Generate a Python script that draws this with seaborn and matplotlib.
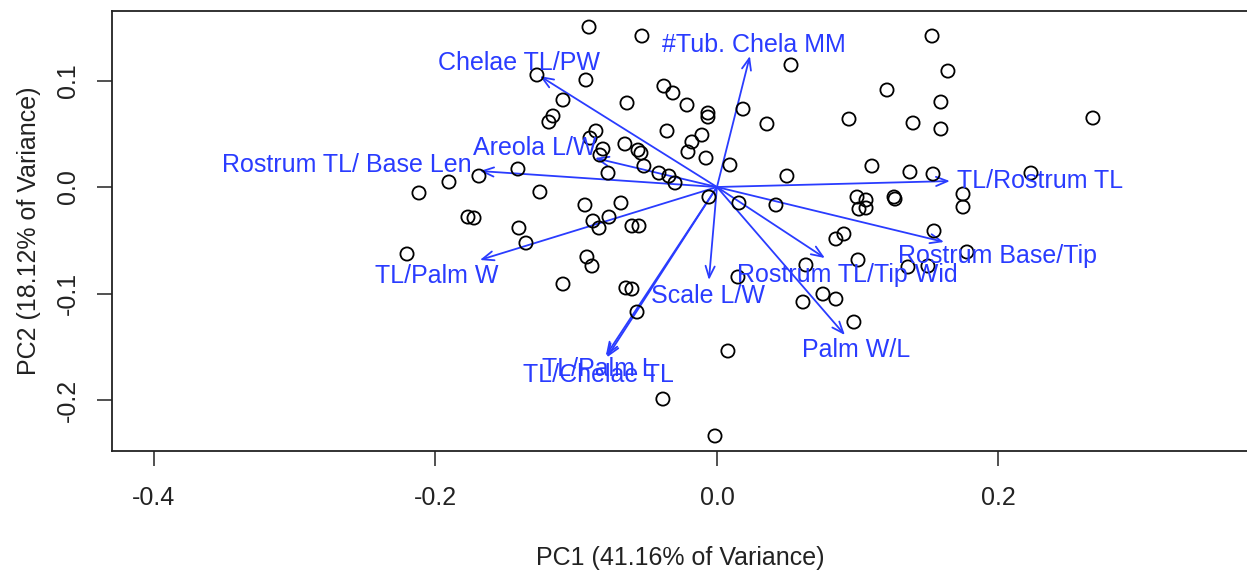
import matplotlib
matplotlib.use("Agg")
import matplotlib.pyplot as plt
import numpy as np
import pandas as pd
import seaborn as sns

# ---------------- data ----------------
pc1 = [-0.0909, -0.0533, 0.1528, 0.0526, 0.1641, -0.1279, -0.0931, -0.0377, -0.0313, 0.1208,
       -0.1094, -0.0639, 0.1591, -0.0213, 0.0185, -0.0064, -0.0064, -0.1165, -0.1194, 0.0938,
       0.2671, 0.1393, 0.0355, 0.1591, -0.0860, -0.0355, -0.0902, -0.0107, -0.0654, -0.0178,
       -0.0810, -0.0561, -0.0540, -0.0206, -0.0831, -0.0078, -0.0519, 0.0092, 0.1101, -0.1414,
       -0.0774, -0.0412, -0.0341, -0.0298, 0.0497, 0.1371, 0.1535, 0.2231, -0.1691, -0.1904,
       -0.2117, -0.1258, 0.1748, 0.0995, 0.1059, 0.1009, 0.1059, 0.1258, 0.1265, 0.1748,
       -0.0057, 0.0156, 0.0419, -0.0938, -0.0682, -0.1769, -0.1726, -0.0881, -0.0838, -0.0767,
       -0.1407, -0.0604, -0.0554, -0.1357, 0.1542, 0.0845, 0.0902, -0.2202, -0.0924, -0.0888,
       0.1776, 0.1002, 0.1357, 0.1499, 0.0632, -0.1094, -0.0647, -0.0604, 0.0149, 0.0753,
       0.0845, 0.0611, -0.0568, 0.0973, 0.0078, -0.0384, -0.0014]
pc2 = [0.1502, 0.1418, 0.1418, 0.1146, 0.1089, 0.1052, 0.1005, 0.0948, 0.0883, 0.0911,
       0.0817, 0.0789, 0.0798, 0.0770, 0.0732, 0.0695, 0.0657, 0.0667, 0.0610, 0.0638,
       0.0648, 0.0601, 0.0592, 0.0545, 0.0526, 0.0526, 0.0460, 0.0488, 0.0404, 0.0423,
       0.0357, 0.0347, 0.0319, 0.0329, 0.0300, 0.0272, 0.0197, 0.0207, 0.0197, 0.0169,
       0.0131, 0.0131, 0.0103, 0.0038, 0.0103, 0.0141, 0.0122, 0.0131, 0.0103, 0.0047,
       -0.0056, -0.0047, -0.0066, -0.0094, -0.0122, -0.0207, -0.0197, -0.0094, -0.0113, -0.0188,
       -0.0094, -0.0150, -0.0169, -0.0169, -0.0150, -0.0282, -0.0291, -0.0319, -0.0385, -0.0282,
       -0.0385, -0.0366, -0.0366, -0.0526, -0.0413, -0.0488, -0.0441, -0.0629, -0.0657, -0.0742,
       -0.0610, -0.0685, -0.0751, -0.0742, -0.0732, -0.0911, -0.0948, -0.0958, -0.0845, -0.1005,
       -0.1052, -0.1080, -0.1174, -0.1268, -0.1540, -0.1991, -0.2338]

var_names = ["Chelae TL/PW", "#Tub. Chela MM", "Areola L/W", "Rostrum TL/ Base Len",
             "TL/Rostrum TL", "TL/Palm W", "Scale L/W", "Rostrum TL/Tip Wid",
             "Palm W/L", "Rostrum Base/Tip", "TL/Palm L", "TL/Chelae TL"]
load_pc1 = [-0.1258, 0.0234, -0.0867, -0.1684, 0.1655, -0.1684, -0.0057, 0.0767,
            0.0909, 0.1613, -0.0782, -0.0790]
load_pc2 = [0.1042, 0.1230, 0.0272, 0.0150, 0.0056, -0.0685, -0.0873, -0.0667,
            -0.1390, -0.0516, -0.1600, -0.1585]
label_pc1 = [-0.1407, 0.0263, -0.1293, -0.2629, 0.2295, -0.1989, -0.0064, 0.0924,
             0.0988, 0.1996, -0.0838, -0.0845]
label_pc2 = [0.1099, 0.1268, 0.0300, 0.0141, -0.0009, -0.0901, -0.1089, -0.0892,
             -0.1596, -0.0714, -0.1775, -0.1831]

x_ticks = [-0.4, -0.2, 0.0, 0.2]
x_tick_labels = ["-0.4", "-0.2", "0.0", "0.2"]
y_ticks = [0.1, 0.0, -0.1, -0.2]
y_tick_labels = ["0.1", "0.0", "-0.1", "-0.2"]
x_title = "PC1 (41.16% of Variance)"
y_title = "PC2 (18.12% of Variance)"

# ---------------- style ----------------
sns.set_theme(style="white")
plt.rcParams["font.family"] = ["Liberation Sans", "DejaVu Sans"]

W, H = 1247, 574
fig = plt.figure(figsize=(W / 100, H / 100), dpi=100)
ax = fig.add_axes([112 / W, 123 / H, 1137 / W, 440 / H])

df = pd.DataFrame({"PC1": pc1, "PC2": pc2})
sns.scatterplot(data=df, x="PC1", y="PC2", ax=ax, marker="o", s=90,
                facecolor="none", edgecolor="black", linewidth=1.3, zorder=3)

blue = "#2a3cff"
for name, lx, ly, tx, ty in zip(var_names, load_pc1, load_pc2, label_pc1, label_pc2):
    ax.annotate("", xy=(lx, ly), xytext=(0, 0),
                arrowprops=dict(arrowstyle="->,head_length=0.55,head_width=0.22",
                                color=blue, lw=1.3, shrinkA=0, shrinkB=0,
                                mutation_scale=15), zorder=2)
    ax.text(tx, ty, name, color=blue, fontsize=18, ha="center", va="baseline", zorder=4)

ax.set_xlim(-0.4298, 0.378)
ax.set_ylim(-0.2479, 0.1653)

ax.set_xticks(x_ticks)
ax.set_xticklabels(x_tick_labels)
ax.set_yticks(y_ticks)
ax.set_yticklabels(y_tick_labels, rotation=90, va="center")
ax.tick_params(axis="both", which="major", direction="out", length=11, width=1.1,
               color="#222222", labelsize=18, labelcolor="#222222",
               bottom=True, left=True, top=False, right=False)
ax.tick_params(axis="x", pad=14)
ax.tick_params(axis="y", pad=12)

ax.set_xlabel(x_title, fontsize=18, color="#222222", labelpad=26)
ax.set_ylabel(y_title, fontsize=18, color="#222222", labelpad=11)

for sp in ax.spines.values():
    sp.set_visible(True)
    sp.set_color("#222222")
    sp.set_linewidth(1.3)

fig.savefig("out.png", dpi=100)
